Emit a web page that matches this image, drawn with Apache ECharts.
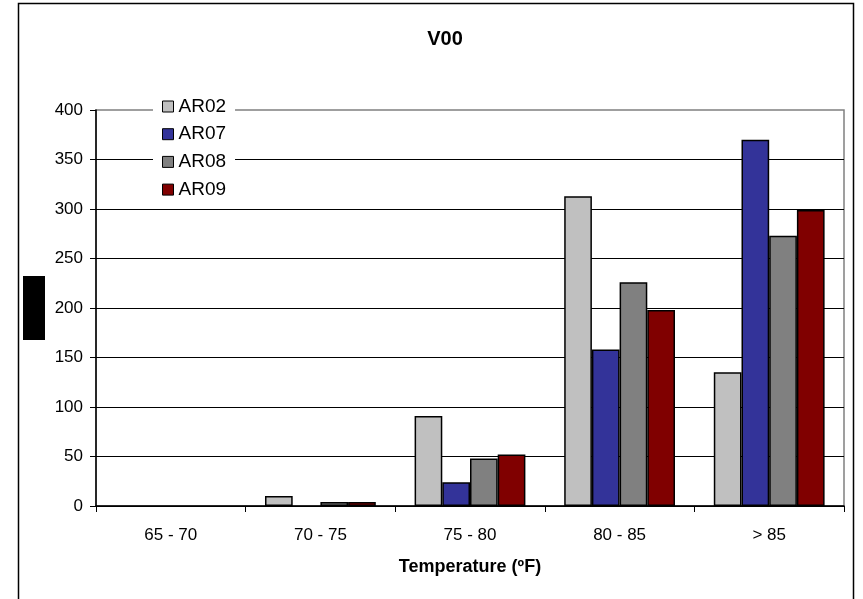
<!DOCTYPE html>
<html>
<head>
<meta charset="utf-8">
<script src="https://cdn.jsdelivr.net/npm/echarts@6/dist/echarts.min.js"></script>
<style>html,body{margin:0;padding:0;background:#fff}#c{width:863px;height:599px}</style>
</head>
<body>
<div id="c"></div>
<script>
const categories = ['65 - 70', '70 - 75', '75 - 80', '80 - 85', '> 85'];
const seriesNames = ['AR02', 'AR07', 'AR08', 'AR09'];
const ar02 = [0, 10, 91, 313, 135];
const ar07 = [0, 0, 24, 158, 370];
const ar08 = [0, 4, 48, 226, 273];
const ar09 = [0, 4, 52, 198, 299];
const colors = ['#C0C0C0', '#333399', '#808080', '#800000'];
const yTicks = { min: 0, max: 400, interval: 50 };
const font = 'Liberation Sans, Arial, sans-serif';

const chart = echarts.init(document.getElementById('c'));
const values = [ar02, ar07, ar08, ar09];
chart.setOption({
  animation: false,
  color: colors,
  title: {
    text: 'V00', left: 440, top: 24, textAlign: 'center',
    textStyle: { fontFamily: font, fontSize: 20, fontWeight: 'bold', color: '#000' }
  },
  grid: { left: 96, right: 19, top: 110, bottom: 93, show: true, borderColor: '#808080', borderWidth: 1.5, backgroundColor: '#fff' },
  legend: {
    orient: 'vertical', left: 153, top: 93,
    padding: [4, 9, 4, 9], backgroundColor: '#fff',
    itemWidth: 11, itemHeight: 11, itemGap: 8.7, icon: 'rect',
    itemStyle: { borderColor: '#000', borderWidth: 1 },
    textStyle: { fontFamily: font, fontSize: 19, lineHeight: 19, color: '#000', padding: [0, 0, 0, 0] },
    data: seriesNames
  },
  xAxis: {
    type: 'category', data: categories,
    name: 'Temperature (ºF)', nameLocation: 'middle', nameGap: 52,
    nameTextStyle: { fontFamily: font, fontSize: 18, fontWeight: 'bold', color: '#000' },
    axisLine: { lineStyle: { color: '#000', width: 1.5 } },
    axisTick: { show: true, length: 6, lineStyle: { color: '#000' } },
    axisLabel: { fontFamily: font, fontSize: 17, color: '#000', margin: 21 }
  },
  yAxis: {
    type: 'value', min: yTicks.min, max: yTicks.max, interval: yTicks.interval,
    axisLine: { show: true, lineStyle: { color: '#000', width: 1.5 } },
    axisTick: { show: true, length: 6, lineStyle: { color: '#000' } },
    axisLabel: { fontFamily: font, fontSize: 17, color: '#000', margin: 13 },
    splitLine: { show: true, showMaxLine: false, lineStyle: { color: '#000', width: 1 } }
  },
  series: seriesNames.map((n, i) => ({
    name: n, type: 'bar',
    data: values[i].map(v => v === 0 ? { value: v, itemStyle: { borderWidth: 0, opacity: 0 } } : v),
    barWidth: 27.7, barGap: '0%',
    itemStyle: { color: colors[i], borderColor: '#000', borderWidth: 1.5 }
  })),
  graphic: [
    { type: 'rect', shape: { x: 18.5, y: 3.5, width: 835, height: 610 }, style: { fill: 'none', stroke: '#000', lineWidth: 1.5 }, silent: true },
    { type: 'rect', shape: { x: 23, y: 276, width: 22, height: 64 }, style: { fill: '#000' }, silent: true }
  ]
});
</script>
</body>
</html>
